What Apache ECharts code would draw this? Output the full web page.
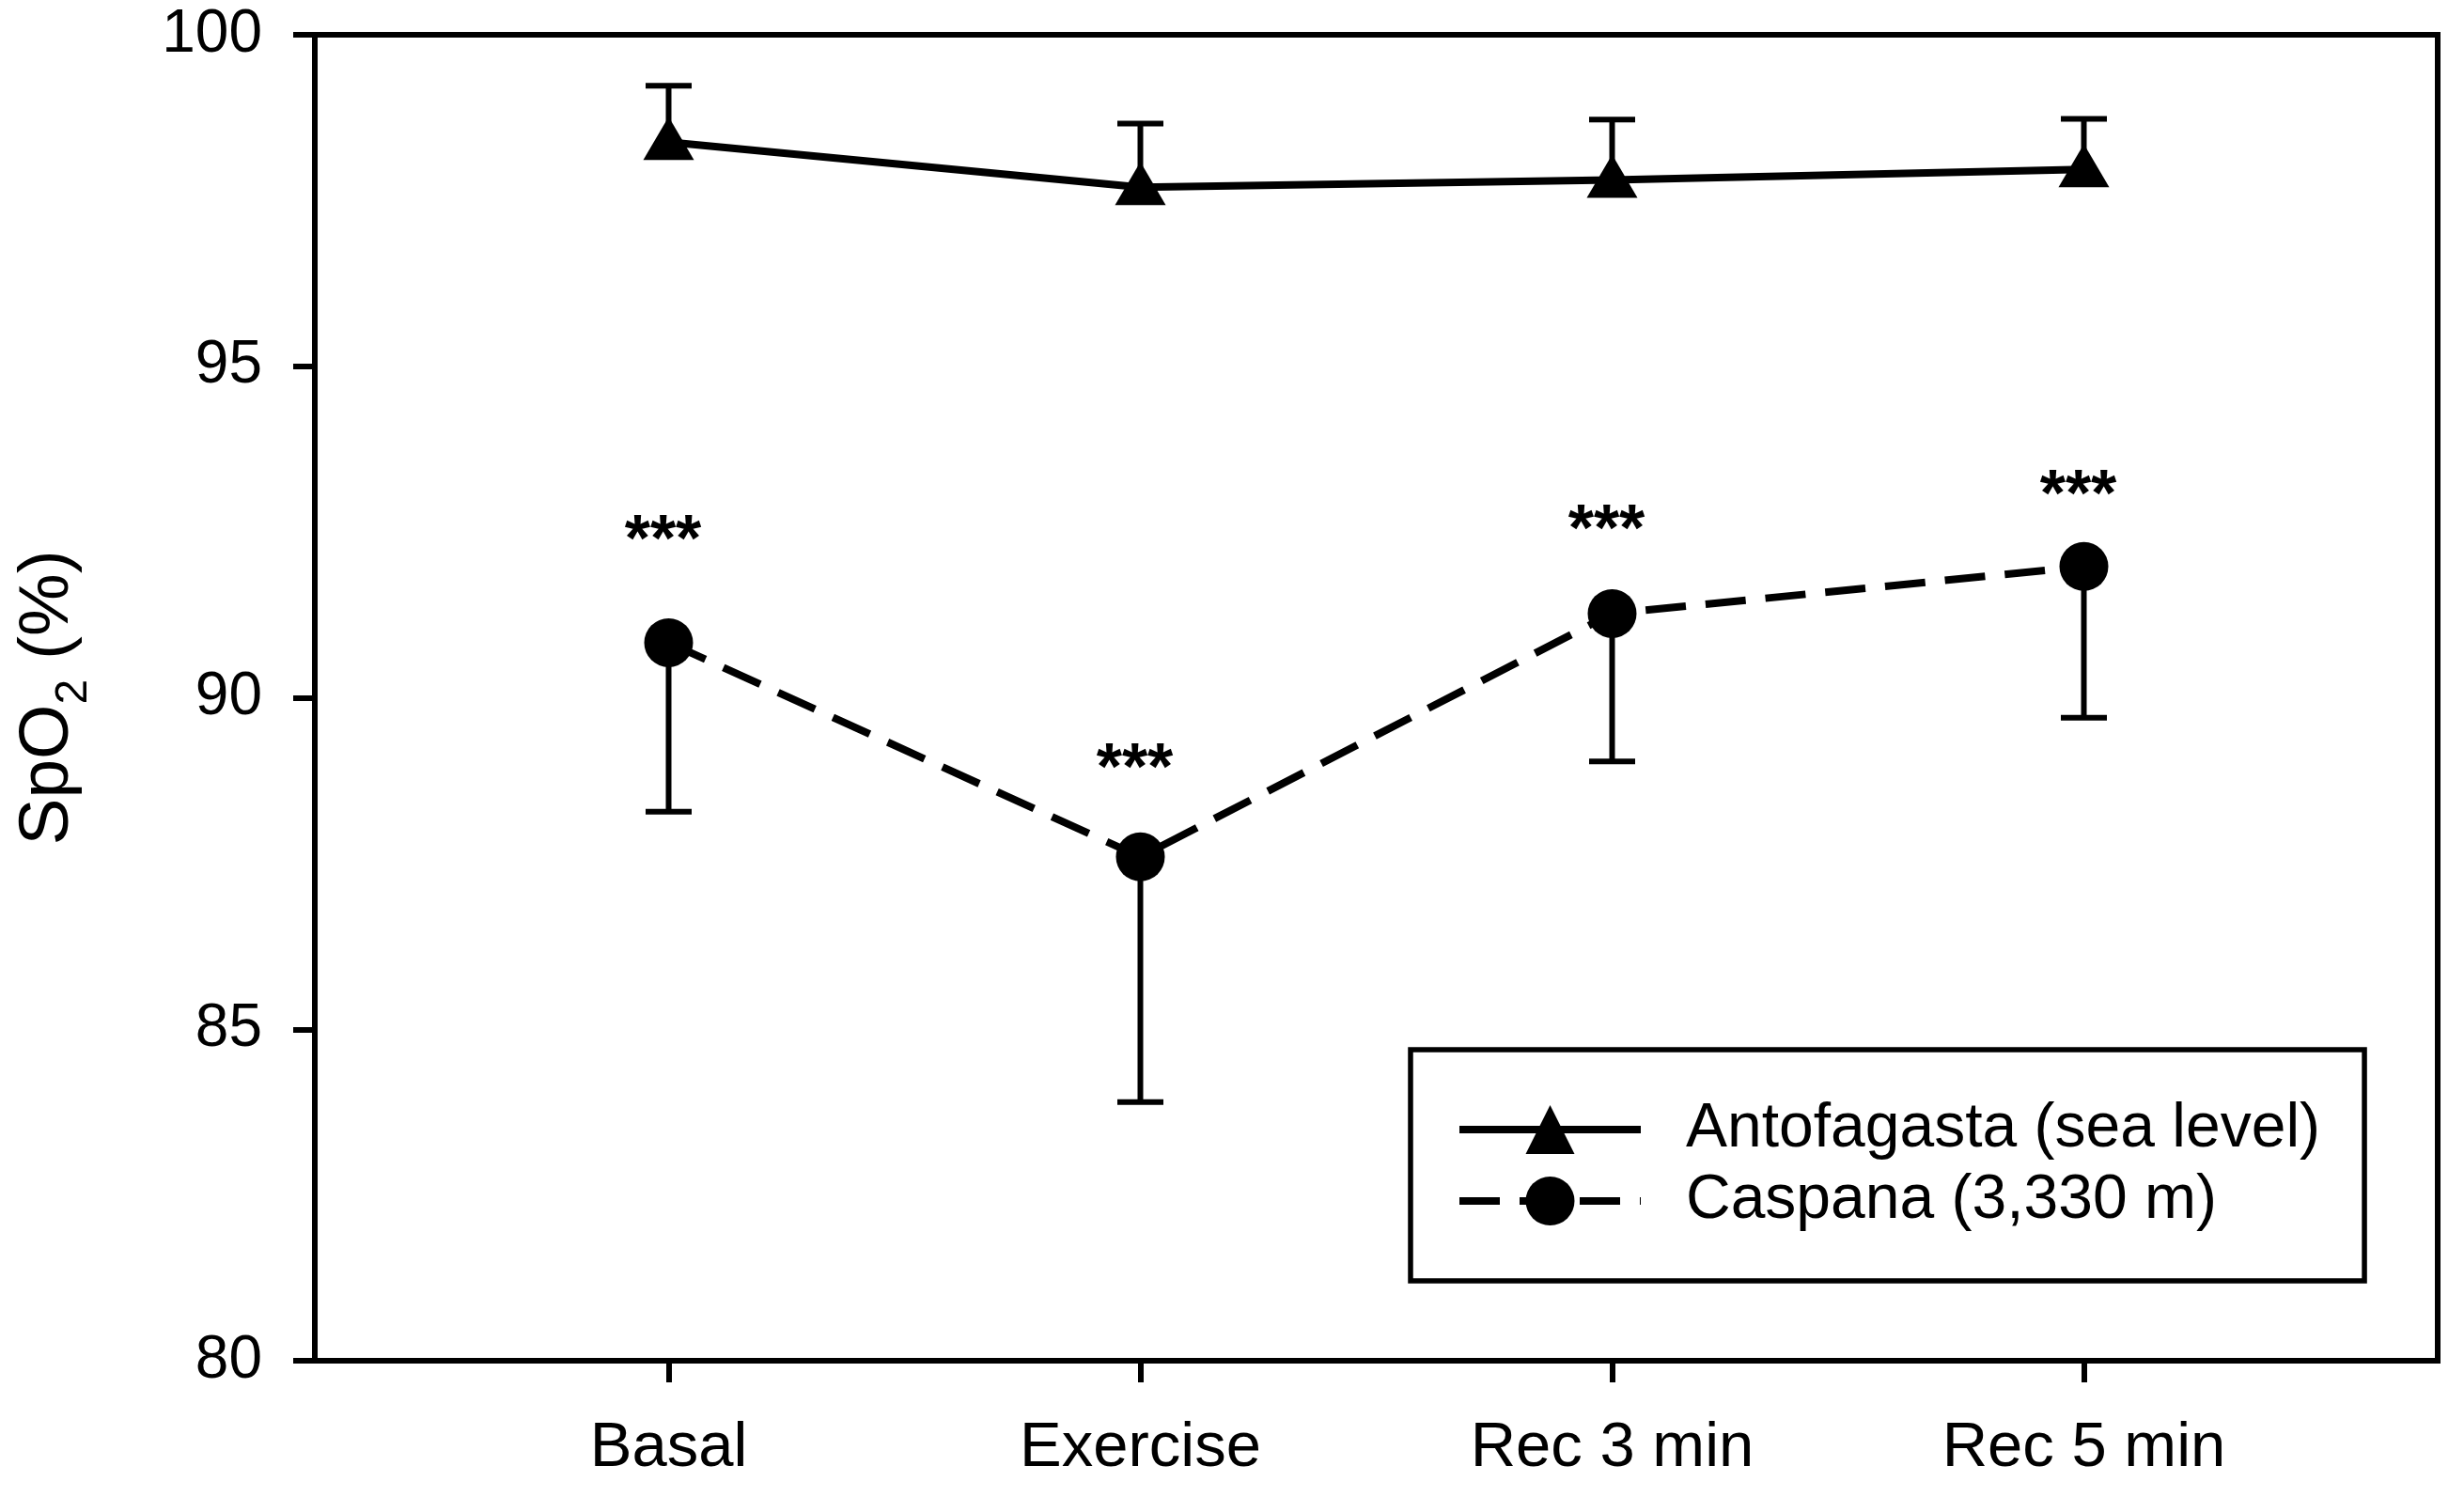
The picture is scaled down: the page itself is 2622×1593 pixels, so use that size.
<!DOCTYPE html>
<html>
<head>
<meta charset="utf-8">
<script src="https://cdn.jsdelivr.net/npm/echarts@6/dist/echarts.min.js"></script>
<style>
html,body{margin:0;padding:0;background:#fff;}
#chart{width:2622px;height:1593px;}
</style>
</head>
<body>
<div id="chart"></div>
<script>
// ---- data ----
const categories = ['Basal', 'Exercise', 'Rec 3 min', 'Rec 5 min'];
const antofagastaMean = [98.38, 97.70, 97.81, 97.97];
const antofagastaUpper = [99.23, 98.66, 98.72, 98.73];
const caspanaMean = [90.83, 87.60, 91.27, 91.98];
const caspanaLower = [88.28, 83.90, 89.04, 89.70];
const sigText = ['***', '***', '***', '***'];
const sigY = [92.33, 88.89, 92.49, 93.01];
const yTicks = [80, 85, 90, 95, 100];
const seriesNames = ['Antofagasta (sea level)', 'Caspana (3,330 m)'];

const FONT = '"Liberation Sans", Arial, sans-serif';
const LW = 6;

const xPos = categories.map((c, i) => i + 1);

function errorBarItem(params, api) {
  const x = api.value(0), m = api.value(1), e = api.value(2);
  const p0 = api.coord([x, m]);
  const p1 = api.coord([x, e]);
  const hw = 24.5;
  return {
    type: 'group',
    children: [
      { type: 'line', shape: { x1: p0[0], y1: p0[1], x2: p1[0], y2: p1[1] }, style: { stroke: '#000', lineWidth: 6 } },
      { type: 'line', shape: { x1: p1[0] - hw, y1: p1[1], x2: p1[0] + hw, y2: p1[1] }, style: { stroke: '#000', lineWidth: 6 } }
    ]
  };
}

const chart = echarts.init(document.getElementById('chart'), null, { renderer: 'canvas' });
chart.setOption({
  animation: false,
  backgroundColor: '#fff',
  grid: {
    left: 335, top: 37, right: 28, bottom: 145,
    show: true, borderColor: '#000', borderWidth: LW,
    containLabel: false, outerBoundsMode: 'none'
  },
  legend: {
    data: seriesNames,
    orient: 'vertical',
    left: 1501, top: 1117,
    padding: [52, 47, 52, 48],
    itemWidth: 193, itemHeight: 65, itemGap: 10,
    borderColor: '#000', borderWidth: 5.5, borderRadius: 0,
    backgroundColor: '#fff',
    selectedMode: false,
    lineStyle: { width: 8 },
    textStyle: { fontFamily: FONT, fontSize: 66, color: '#000', lineHeight: 65, padding: [0, 0, 0, 43] }
  },
  xAxis: {
    type: 'value', min: 0.25, max: 4.75,
    splitLine: { show: false },
    axisLine: { show: true, lineStyle: { color: '#000', width: LW } },
    axisTick: { show: true, customValues: xPos, length: 23, lineStyle: { color: '#000', width: LW } },
    axisLabel: {
      customValues: xPos,
      formatter: v => categories[Math.round(v) - 1] || '',
      margin: 60, fontFamily: FONT, fontSize: 67, lineHeight: 67, color: '#000'
    }
  },
  yAxis: {
    type: 'value', min: 80, max: 100, interval: 5,
    splitLine: { show: false },
    axisLine: { show: true, lineStyle: { color: '#000', width: LW } },
    axisTick: { show: true, length: 23, lineStyle: { color: '#000', width: LW } },
    axisLabel: { margin: 56, fontFamily: FONT, fontSize: 64, color: '#000', formatter: v => yTicks.includes(v) ? String(v) : '' },
    name: '{a|SpO}{b|2}{a| (%)}',
    nameLocation: 'middle',
    nameGap: 232,
    nameTextStyle: {
      fontFamily: FONT, color: '#000',
      rich: {
        a: { fontFamily: FONT, fontSize: 75, lineHeight: 104, color: '#000', verticalAlign: 'middle' },
        b: { fontFamily: FONT, fontSize: 48, lineHeight: 48, color: '#000', verticalAlign: 'bottom' }
      }
    }
  },
  series: [
    {
      name: 'errA', type: 'custom', z: 1, silent: true,
      renderItem: errorBarItem,
      data: xPos.map((x, i) => [x, antofagastaMean[i], antofagastaUpper[i]])
    },
    {
      name: 'errC', type: 'custom', z: 1, silent: true,
      renderItem: errorBarItem,
      data: xPos.map((x, i) => [x, caspanaMean[i], caspanaLower[i]])
    },
    {
      name: seriesNames[0], type: 'line', z: 3,
      data: xPos.map((x, i) => [x, antofagastaMean[i]]),
      symbol: 'triangle', symbolSize: [54, 46], symbolOffset: [0, -4],
      itemStyle: { color: '#000' },
      lineStyle: { color: '#000', width: 8, type: 'solid' },
      emphasis: { disabled: true }
    },
    {
      name: seriesNames[1], type: 'line', z: 3,
      data: xPos.map((x, i) => [x, caspanaMean[i]]),
      symbol: 'circle', symbolSize: 52,
      itemStyle: { color: '#000' },
      lineStyle: { color: '#000', width: 8, type: [43, 21] },
      emphasis: { disabled: true }
    },
    {
      name: 'sig', type: 'custom', z: 4, silent: true,
      renderItem: function (params, api) {
        const p = api.coord([api.value(0), api.value(1)]);
        return {
          type: 'text',
          style: { text: sigText[params.dataIndex], x: p[0] - 6, y: p[1], fontFamily: FONT, fontSize: 70, fontWeight: 'bold', fill: '#000', align: 'center', verticalAlign: 'middle' }
        };
      },
      data: xPos.map((x, i) => [x, sigY[i]])
    }
  ]
});
</script>
</body>
</html>
